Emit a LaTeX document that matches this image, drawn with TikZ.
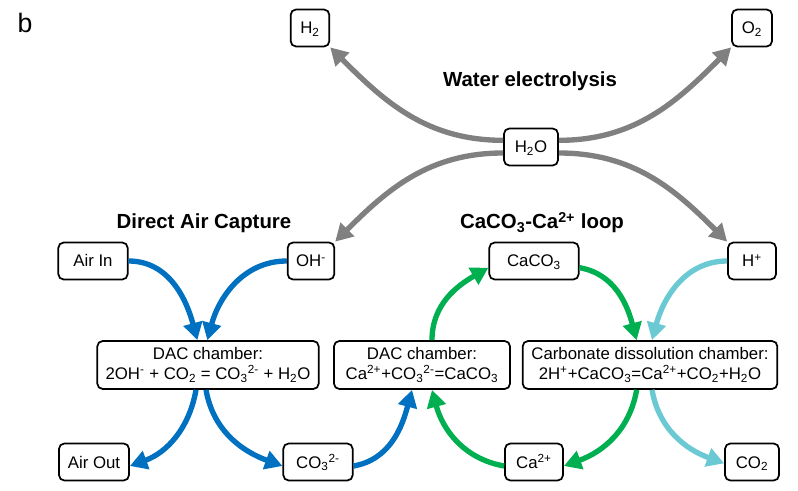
\documentclass[tikz,border=0pt]{standalone}
\usepackage{fontspec}
\setmainfont{Liberation Sans}
\usepackage{xcolor}
\definecolor{dacblue}{HTML}{0070C0}
\definecolor{loopgreen}{HTML}{00B050}
\definecolor{acidcyan}{HTML}{6BC9D3}
\definecolor{splitgray}{HTML}{808080}
\usetikzlibrary{arrows.meta}

\begin{document}
\begin{tikzpicture}[x=0.75pt, y=-0.75pt,
  every node/.style={font=\fontsize{12.6}{15}\selectfont},
  box/.style={draw, line width=1.3pt, rounded corners=4pt, inner sep=0pt},
  item/.style={box, minimum height=27.75pt, text height=9pt, text depth=0pt},
  chamber/.style={box, minimum height=36pt, align=center},
  heading/.style={font=\fontsize{15.3}{18}\selectfont\bfseries, anchor=base},
  flow/.style={line width=4pt, -{Triangle[length=13pt, width=14pt]}}]
  \useasboundingbox (0,0) rectangle (798,491);

  % Panel letter and headings
  \node[font=\fontsize{20}{24}\selectfont, anchor=base] (panel) at (25,33) {b};
  \node[heading] (electrolysis) at (530,87) {Water electrolysis};
  \node[heading] (capture) at (204,229) {Direct Air Capture};
  \node[heading] (loop) at (542,229) {CaCO\textsubscript{3}-Ca\textsuperscript{2+} loop};

  % Water electrolysis species
  \node[item, minimum width=29pt] (h2) at (310,28) {H\textsubscript{2}};
  \node[item, minimum width=30pt] (o2) at (752,28) {O\textsubscript{2}};
  \node[item, minimum width=40.5pt] (h2o) at (531,147) {H\textsubscript{2}O};

  % Inputs row
  \node[item, minimum width=52pt] (airin) at (93,261) {Air In};
  \node[item, minimum width=35pt] (oh) at (311,261) {OH\textsuperscript{-}};
  \node[item, minimum width=67pt] (caco) at (534,261) {CaCO\textsubscript{3}};
  \node[item, minimum width=36pt] (hplus) at (752,261) {H\textsuperscript{+}};

  % Chambers
  \node[chamber, minimum width=166pt] (dac) at (208,365) {DAC chamber:\\2OH\textsuperscript{-} + CO\textsubscript{2} = CO\textsubscript{3}\textsuperscript{2-} + H\textsubscript{2}O};
  \node[chamber, minimum width=132pt] (dacca) at (422,365) {DAC chamber:\\Ca\textsuperscript{2+}+CO\textsubscript{3}\textsuperscript{2-}=CaCO\textsubscript{3}};
  \node[chamber, minimum width=191pt] (dissolve) at (650,365) {Carbonate dissolution chamber:\\2H\textsuperscript{+}+CaCO\textsubscript{3}=Ca\textsuperscript{2+}+CO\textsubscript{2}+H\textsubscript{2}O};

  % Outputs row
  \node[item, minimum width=52.5pt] (airout) at (94,462) {Air Out};
  \node[item, minimum width=52pt] (coth) at (318,462) {CO\textsubscript{3}\textsuperscript{2-}};
  \node[item, minimum width=43.5pt] (ca) at (534,462) {Ca\textsuperscript{2+}};
  \node[item, minimum width=40.5pt] (cot) at (752,462) {CO\textsubscript{2}};

  % Gray arrows (water splitting)
  \draw[flow, splitgray] ([yshift=5pt]h2o.west) to[out=180, in=-45] (h2.south east);
  \draw[flow, splitgray] ([yshift=5pt]h2o.east) to[out=0, in=-135] (o2.south west);
  \draw[flow, splitgray] ([yshift=-4.5pt]h2o.west) to[out=180, in=45] (oh.north east);
  \draw[flow, splitgray] ([yshift=-4.5pt]h2o.east) to[out=0, in=135] (hplus.north west);

  % Blue arrows (direct air capture)
  \draw[flow, dacblue] (airin.east) to[out=0, in=105] ([xshift=-8pt]dac.north);
  \draw[flow, dacblue] (oh.west) to[out=180, in=75] ([xshift=-0.5pt]dac.north);
  \draw[flow, dacblue] ([xshift=-9pt]dac.south) to[out=-100, in=20] ([yshift=-3pt]airout.east);
  \draw[flow, dacblue] ([xshift=-1.5pt]dac.south) to[out=-80, in=160] ([yshift=-3pt]coth.west);
  \draw[flow, dacblue] ([yshift=-3pt]coth.east) to[out=10, in=-105] ([xshift=-7.5pt]dacca.south);

  % Green arrows (CaCO3-Ca2+ loop)
  \draw[flow, loopgreen] ([xshift=7.5pt]dacca.north) to[out=90, in=-150] ([yshift=-5pt]caco.west);
  \draw[flow, loopgreen] ([yshift=-5pt]caco.east) to[out=-10, in=105] ([xshift=-10pt]dissolve.north);
  \draw[flow, loopgreen] ([xshift=-10pt]dissolve.south) to[out=-100, in=20] ([yshift=-3pt]ca.east);
  \draw[flow, loopgreen] ([yshift=-3pt]ca.west) to[out=170, in=-75] ([xshift=7.5pt]dacca.south);

  % Cyan arrows (acid side)
  \draw[flow, acidcyan] (hplus.west) to[out=180, in=75] ([xshift=1.5pt]dissolve.north);
  \draw[flow, acidcyan] ([xshift=1.5pt]dissolve.south) to[out=-80, in=160] ([yshift=-1pt]cot.west);
\end{tikzpicture}
\end{document}
